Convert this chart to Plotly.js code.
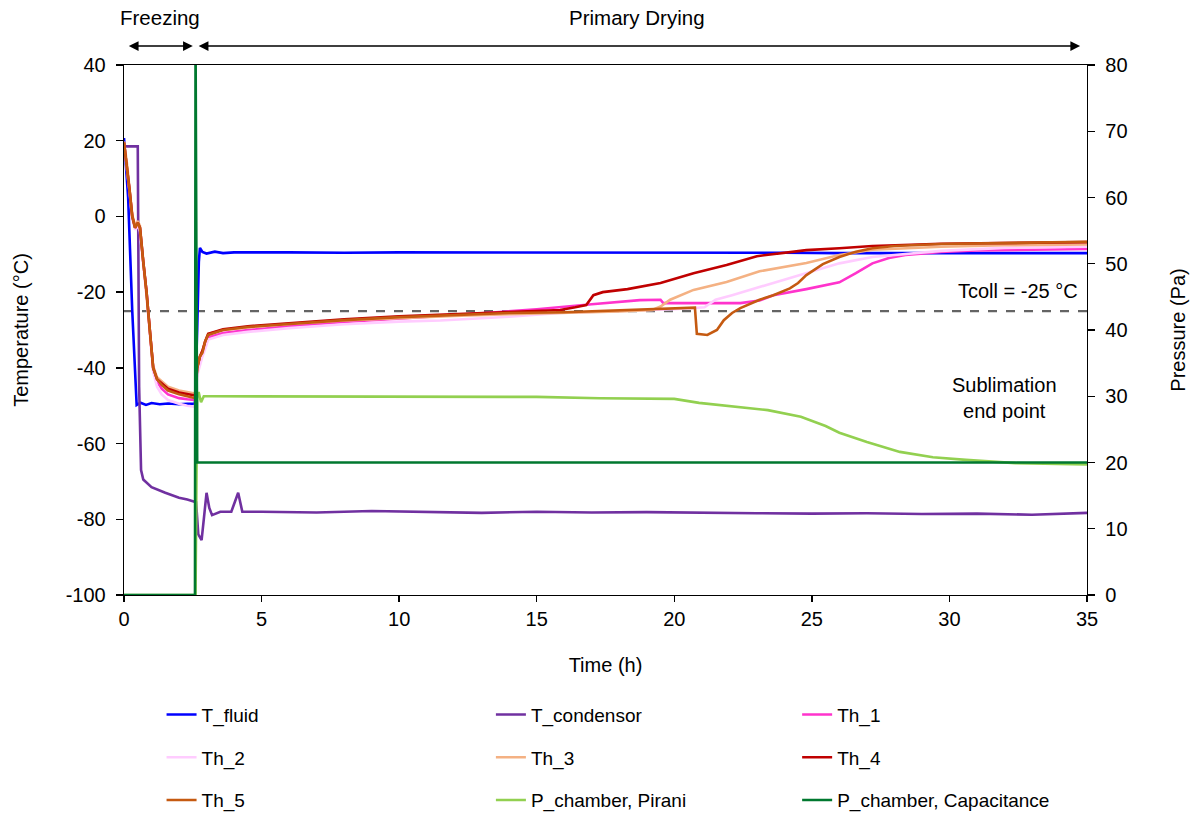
<!DOCTYPE html>
<html>
<head>
<meta charset="utf-8">
<script src="https://cdn.plot.ly/plotly-3.0.1.min.js"></script>
<style>html,body{margin:0;padding:0;background:#fff;}#chart{width:1197px;height:818px;}</style>
</head>
<body>
<div id="chart"></div>
<script>
// ---- Data ----
const TCOLL = -25;

const xTickVals = [0, 5, 10, 15, 20, 25, 30, 35];
const xTickText = ["0", "5", "10", "15", "20", "25", "30", "35"];
const yTickVals = [-100, -80, -60, -40, -20, 0, 20, 40];
const yTickText = ["-100", "-80", "-60", "-40", "-20", "0", "20", "40"];
const y2TickVals = [0, 10, 20, 30, 40, 50, 60, 70, 80];
const y2TickText = ["0", "10", "20", "30", "40", "50", "60", "70", "80"];

const t_fluid = [0, 0.15, 0.3, 0.46, 0.6, 0.8, 1.0, 1.3, 1.6, 2.0, 2.3, 2.58, 2.66, 2.72, 2.76, 2.85, 3.0, 3.3, 3.6, 4, 6, 8, 10, 12, 14, 16, 18, 20, 22, 24, 26, 28, 30, 32, 35];
const T_fluid = [20.7, 5, -25, -49.8, -49.2, -49.8, -49.3, -49.6, -49.4, -49.6, -49.5, -49.5, -30, -12, -8.3, -9.4, -9.8, -9.3, -9.7, -9.5, -9.5, -9.6, -9.5, -9.5, -9.6, -9.5, -9.5, -9.6, -9.6, -9.6, -9.7, -9.7, -9.7, -9.8, -9.7];

const t_cond = [0, 0.5, 0.55, 0.62, 0.7, 1.0, 1.5, 2.0, 2.3, 2.55, 2.62, 2.7, 2.82, 2.9, 3.0, 3.1, 3.2, 3.5, 3.9, 4.15, 4.3, 5, 7, 9, 11, 13, 15, 17, 19, 21, 23, 25, 27, 29, 31, 33, 35];
const T_cond = [18.5, 18.5, -45, -67, -69.5, -71.5, -73, -74.3, -74.8, -75.3, -75.5, -84, -85.5, -80, -73, -77, -78.9, -78, -78, -73, -78, -78, -78.2, -77.8, -78, -78.3, -78, -78.2, -78.1, -78.3, -78.4, -78.5, -78.4, -78.6, -78.5, -78.8, -78.3];

const t_th1 = [0, 0.1, 0.2, 0.3, 0.4, 0.5, 0.58, 0.7, 0.82, 0.95, 1.06, 1.2, 1.37, 1.6, 2.0, 2.3, 2.58, 2.66, 2.76, 2.85, 2.95, 3.06, 3.6, 4.5, 6, 8, 10, 13, 15, 15.85, 17, 18.75, 19.5, 19.6, 20.9, 22.4, 23.1, 23.6, 24.8, 26, 26.6, 27.2, 27.8, 28.4, 29.7, 31, 33, 35];
const Th_1 = [19.5, 14, 7, 0, -2.5, -1.5, -3, -12, -20, -31, -40, -43.5, -45.5, -47, -48, -48.3, -48.5, -41, -38, -36.5, -34, -32, -30.8, -30, -29, -27.9, -27, -25.6, -24.5, -24, -23.2, -22.1, -22, -22.9, -22.9, -22.9, -22.2, -20.8, -19.2, -17.4, -15, -12.4, -11, -10.2, -9.4, -9, -8.8, -8.6];

const t_th2 = [0, 0.1, 0.2, 0.3, 0.4, 0.5, 0.58, 0.7, 0.82, 0.95, 1.06, 1.2, 1.37, 1.6, 2.0, 2.3, 2.58, 2.66, 2.76, 2.85, 2.95, 3.06, 3.6, 4.5, 6, 8, 10, 11.5, 14, 15.85, 18, 20, 21.1, 21.5, 22.1, 23.1, 24, 24.8, 26, 27.2, 28.5, 29.7, 32, 35];
const Th_2 = [19, 13.5, 6.5, -0.5, -3.5, -2.5, -4, -13, -21, -32, -41, -45, -47, -48.5, -49.5, -50, -50.3, -42, -39, -37, -35, -32.5, -31.3, -30.5, -29.5, -28.5, -27.8, -27.5, -26.5, -25.5, -25, -24.5, -24, -22, -20.8, -18.6, -16.8, -15, -12.4, -10.7, -9.8, -9.1, -8.3, -8];

const t_th3 = [0, 0.1, 0.2, 0.3, 0.4, 0.5, 0.58, 0.7, 0.82, 0.95, 1.06, 1.2, 1.37, 1.6, 2.0, 2.3, 2.58, 2.66, 2.76, 2.85, 2.95, 3.06, 3.6, 4.5, 6, 8, 10, 12, 14, 15.85, 18, 19.2, 19.5, 19.85, 20.7, 21.9, 23.1, 24.8, 26, 27.2, 29.7, 32, 35];
const Th_3 = [19.8, 14.5, 7.5, 0.5, -2.5, -1.2, -2.5, -11.5, -19.5, -30.5, -39.5, -42.5, -43.5, -45, -46, -46.5, -46.8, -40, -37, -35.5, -33, -31, -30, -29.3, -28.4, -27.5, -26.8, -26.3, -25.8, -25.5, -25.1, -24.7, -23.8, -22, -19.4, -17.3, -14.5, -12.3, -10.2, -8.8, -8, -7.6, -7.4];

const t_th4 = [0, 0.1, 0.2, 0.3, 0.4, 0.5, 0.58, 0.7, 0.82, 0.95, 1.06, 1.2, 1.37, 1.6, 2.0, 2.3, 2.58, 2.66, 2.76, 2.85, 2.95, 3.06, 3.6, 4.5, 6, 8, 10, 12, 14, 15.85, 16.4, 16.8, 17.06, 17.4, 18.3, 19.5, 20.7, 21.9, 23, 23.6, 24.8, 26, 27.2, 29.7, 32, 35];
const Th_4 = [19.5, 14, 7, 0, -3, -1.7, -3, -12, -20, -31, -40, -43, -44, -45.5, -46.5, -47, -47.3, -40, -37, -35.5, -33, -31, -29.8, -29, -28.2, -27.2, -26.4, -25.8, -25.2, -24.7, -24, -23.4, -20.8, -20, -19.2, -17.6, -15, -12.8, -10.5, -9.9, -8.9, -8.4, -7.8, -7.2, -7, -6.8];

const t_th5 = [0, 0.1, 0.2, 0.3, 0.4, 0.5, 0.58, 0.7, 0.82, 0.95, 1.06, 1.2, 1.37, 1.6, 2.0, 2.3, 2.58, 2.66, 2.76, 2.85, 2.95, 3.06, 3.6, 4.5, 6, 8, 10, 12, 14, 16, 18, 20, 20.75, 20.82, 21.2, 21.55, 21.8, 22.1, 22.4, 23.1, 23.6, 24.2, 24.5, 24.8, 25.4, 26, 26.6, 27.2, 28, 29.7, 32, 35];
const Th_5 = [19.5, 14, 7, 0, -3, -1.7, -3, -12, -20, -31, -40, -43, -44.5, -46, -47, -47.5, -48, -40, -37, -36, -33, -31.3, -30, -29.2, -28.4, -27.4, -26.6, -26, -25.5, -25.3, -24.8, -24.4, -24.1, -31, -31.3, -30, -27.4, -25.5, -24.2, -22, -20.8, -19, -17.6, -15.5, -12.6, -10.7, -9.3, -8.4, -7.8, -7.3, -7, -6.7];

const t_pir = [0, 2.6, 2.66, 2.72, 2.8, 2.9, 3.2, 5, 10, 15, 17.3, 20, 20.9, 22, 23.4, 24.6, 25.5, 26, 27, 28.2, 29.4, 30.6, 32.4, 35];
const P_pir = [0, 0, 30.5, 30.5, 29.1, 30, 30, 30, 30, 29.9, 29.7, 29.6, 29.0, 28.5, 27.9, 26.9, 25.5, 24.5, 23.1, 21.6, 20.8, 20.4, 19.9, 19.7];

const t_cap = [0, 2.58, 2.6, 2.66, 35];
const P_cap = [0, 0, 85, 20, 20];

const names = ["T_fluid", "T_condensor", "Th_1", "Th_2", "Th_3", "Th_4", "Th_5", "P_chamber, Pirani", "P_chamber, Capacitance"];
const colors = ["#0000FF", "#7030A0", "#FF33CC", "#FFCCFF", "#F4B183", "#C00000", "#C55A11", "#92D050", "#00782F"];

// ---- Build traces ----
const series = [
  [t_fluid, T_fluid, "y", "legend"],
  [t_cond, T_cond, "y", "legend2"],
  [t_th1, Th_1, "y", "legend3"],
  [t_th2, Th_2, "y", "legend"],
  [t_th3, Th_3, "y", "legend2"],
  [t_th4, Th_4, "y", "legend3"],
  [t_th5, Th_5, "y", "legend"],
  [t_pir, P_pir, "y2", "legend2"],
  [t_cap, P_cap, "y2", "legend3"]
];
const traces = series.map((s, i) => ({
  x: s[0], y: s[1], yaxis: s[2], legend: s[3], legendgroup: "g" + i,
  type: "scatter", mode: "lines", name: names[i],
  line: {color: colors[i], width: 2.6},
  cliponaxis: true
}));

const FONT = "Liberation Sans, Arial, sans-serif";
const legendBase = {
  orientation: "v", traceorder: "grouped", tracegroupgap: 15,
  yanchor: "top", y: -0.19, xanchor: "left",
  font: {family: FONT, size: 19, color: "#000"},
  bgcolor: "rgba(0,0,0,0)", itemwidth: 30
};

const layout = {
  width: 1197, height: 818,
  margin: {l: 124, r: 110, t: 65, b: 223, autoexpand: false},
  paper_bgcolor: "#fff", plot_bgcolor: "#fff",
  font: {family: FONT, size: 20, color: "#000"},
  showlegend: true,
  legend: Object.assign({}, legendBase, {x: 0.039}),
  legend2: Object.assign({}, legendBase, {x: 0.381}),
  legend3: Object.assign({}, legendBase, {x: 0.699}),
  xaxis: {
    range: [0, 35], tickmode: "array", tickvals: xTickVals, ticktext: xTickText,
    showgrid: false, zeroline: false,
    showline: true, linecolor: "#000", linewidth: 1.3, mirror: true,
    ticks: "outside", ticklen: 6, tickcolor: "#000", tickwidth: 1.3,
    tickfont: {size: 20}, ticklabelstandoff: 0,
    title: {text: "Time (h)", font: {size: 20}, standoff: 28}
  },
  yaxis: {
    range: [-100, 40], tickmode: "array", tickvals: yTickVals, ticktext: yTickText,
    showgrid: false, zeroline: false,
    showline: true, linecolor: "#000", linewidth: 1.3,
    ticks: "outside", ticklen: 7, tickcolor: "#000", tickwidth: 1.3,
    tickfont: {size: 20}, ticklabelstandoff: 6,
    title: {text: "Temperature (°C)", font: {size: 20}, standoff: 31}
  },
  yaxis2: {
    range: [0, 80], tickmode: "array", tickvals: y2TickVals, ticktext: y2TickText,
    overlaying: "y", side: "right",
    showgrid: false, zeroline: false,
    showline: true, linecolor: "#000", linewidth: 1.3,
    ticks: "outside", ticklen: 7, tickcolor: "#000", tickwidth: 1.3,
    tickfont: {size: 20}, ticklabelstandoff: 6,
    title: {text: "Pressure (Pa)", font: {size: 20}, standoff: 44}
  },
  shapes: [{
    type: "line", xref: "x", yref: "y", x0: 0, x1: 35, y0: TCOLL, y1: TCOLL,
    line: {color: "#646464", width: 2.2, dash: "dash"}, layer: "below"
  }],
  annotations: [
    {xref: "x", yref: "paper", x: 1.31, y: 1.0887, yanchor: "middle", text: "Freezing", showarrow: false, font: {size: 20.5}},
    {xref: "x", yref: "paper", x: 18.65, y: 1.0887, yanchor: "middle", text: "Primary Drying", showarrow: false, font: {size: 20.5}},
    {xref: "x", yref: "paper", x: 2.5, y: 1.0358, axref: "x", ax: 0.12, ayref: "pixel", ay: 0,
     text: "", showarrow: true, arrowside: "end+start", arrowhead: 2, arrowsize: 1.3, arrowwidth: 1.5, arrowcolor: "#000", standoff: 0, startstandoff: 0},
    {xref: "x", yref: "paper", x: 34.75, y: 1.0358, axref: "x", ax: 2.66, ayref: "pixel", ay: 0,
     text: "", showarrow: true, arrowside: "end+start", arrowhead: 2, arrowsize: 1.3, arrowwidth: 1.5, arrowcolor: "#000", standoff: 0, startstandoff: 0},
    {xref: "x", yref: "y", x: 32.5, y: -19.7, text: "Tcoll = -25 °C", showarrow: false, font: {size: 20}},
    {xref: "x", yref: "y", x: 32.0, y: -48, text: "Sublimation<br>end point", showarrow: false, font: {size: 20}}
  ]
};

Plotly.newPlot("chart", traces, layout, {staticPlot: true, displayModeBar: false});
</script>
</body>
</html>
